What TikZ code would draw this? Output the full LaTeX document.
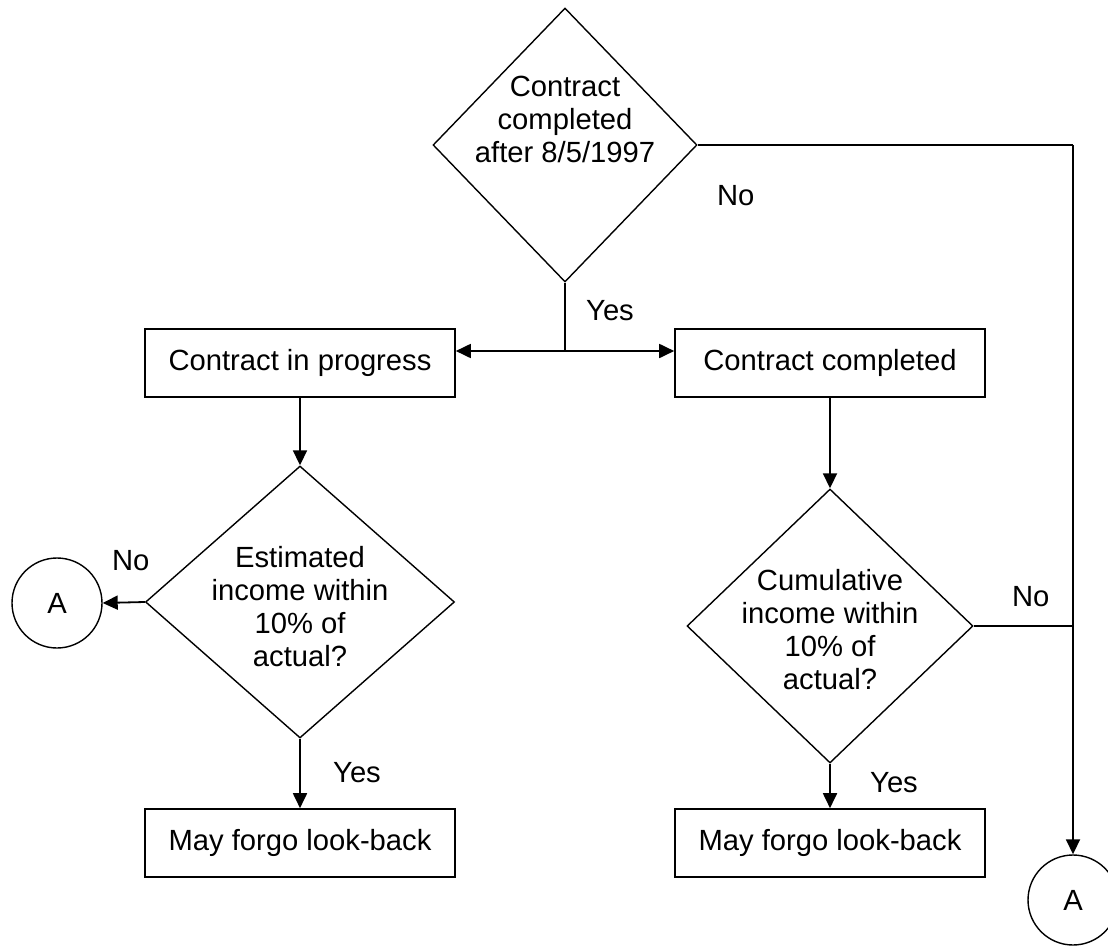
\documentclass[tikz,border=0pt]{standalone}
\usepackage{fontspec}
\setmainfont{Liberation Sans}
\usepackage{tikz}
\usetikzlibrary{shapes.geometric, arrows.meta, positioning}
\newcommand{\chartfont}{\fontsize{14.6}{16.5}\selectfont}
\tikzset{
  procbox/.style={
    rectangle,
    draw=black,
    line width=0.8pt,
    text centered,
    minimum width=155pt,
    minimum height=34pt,
    inner sep=0pt,
    font=\chartfont,
  },
  decision/.style={
    diamond,
    draw=black,
    line width=0.7pt,
    inner sep=0pt,
  },
  decitext/.style={
    align=center,
    inner sep=0pt,
    font=\chartfont,
  },
  offpage/.style={
    circle,
    draw=black,
    line width=0.7pt,
    minimum size=45pt,
    inner sep=0pt,
    font=\chartfont,
  },
  answer/.style={
    inner sep=0pt,
    font=\chartfont,
  },
  arrow/.style={
    -{Triangle[length=7.5pt,width=7pt]},
    line width=0.9pt
  },
  plain/.style={
    -,
    line width=0.9pt
  }
}

\begin{document}
\begin{tikzpicture}[x=0.5pt, y=-0.5pt]
  \useasboundingbox (0,0) rectangle (1108,947);
  \clip (0,0) rectangle (1108,947);

  % Top decision
  \node [decision, minimum width=132pt, minimum height=137pt] (after) at (565,145) {};
  \node [decitext] (aftertxt) at ([yshift=13pt]after.center)
        {Contract\\completed\\after 8/5/1997};

  % Contract status
  \node [procbox] (inprog) at (300,363) {Contract in progress};
  \node [procbox] (done)   at (830,363) {Contract completed};

  % Ten percent tests
  \node [decision, minimum width=154.5pt, minimum height=136pt] (estim) at (300,602) {};
  \node [decitext] (estimtxt) at ([yshift=-2.5pt]estim.center)
        {Estimated\\income within\\10\% of\\actual?};
  \node [decision, minimum width=143pt, minimum height=137pt] (cumul) at (830,626) {};
  \node [decitext] (cumultxt) at ([yshift=-2pt]cumul.center)
        {Cumulative\\income within\\10\% of\\actual?};

  % Outcomes
  \node [procbox] (forgoL) at (300,843) {May forgo look-back};
  \node [procbox] (forgoR) at (830,843) {May forgo look-back};
  \node [offpage] (connL) at (57,603)   {A};
  \node [offpage] (connR) at (1073,900) {A};

  % Split and corner coordinates
  \coordinate (split)  at (565,351);
  \coordinate (cornerR) at (1073,145);
  \coordinate (joinR)  at (1073,626);

  % Yes: split to both boxes
  \draw [plain] (after.south) -- (split);
  \draw [arrow] (split) -- (split -| inprog.east);
  \draw [arrow] (split) -- (split -| done.west);

  % No: down the right side
  \draw [plain] (after.east) -- (cornerR);
  \draw [arrow] (cornerR) -- (connR.north);
  \draw [plain] (cumul.east) -- (joinR);

  % Boxes to tests
  \draw [arrow] (inprog.south) -- (estim.north);
  \draw [arrow] (done.south)   -- (cumul.north);
  \draw [arrow] (estim.west)   -- (connL.east);
  \draw [arrow] (estim.south)  -- (forgoL.north);
  \draw [arrow] (cumul.south)  -- (forgoR.north);

  % Answer labels
  \node [answer] (yes1) at ([xshift=22.5pt, yshift=-14pt]after.south) {Yes};
  \node [answer] (no1)  at ([xshift=19pt, yshift=-25.5pt]after.east)  {No};
  \node [answer] (no2)  at ([xshift=-7pt, yshift=20.5pt]estim.west)   {No};
  \node [answer] (yes2) at ([xshift=28.5pt, yshift=-17pt]estim.south) {Yes};
  \node [answer] (no3)  at ([xshift=28.5pt, yshift=14.5pt]cumul.east) {No};
  \node [answer] (yes3) at ([xshift=32pt, yshift=-9.5pt]cumul.south)  {Yes};
\end{tikzpicture}
\end{document}
